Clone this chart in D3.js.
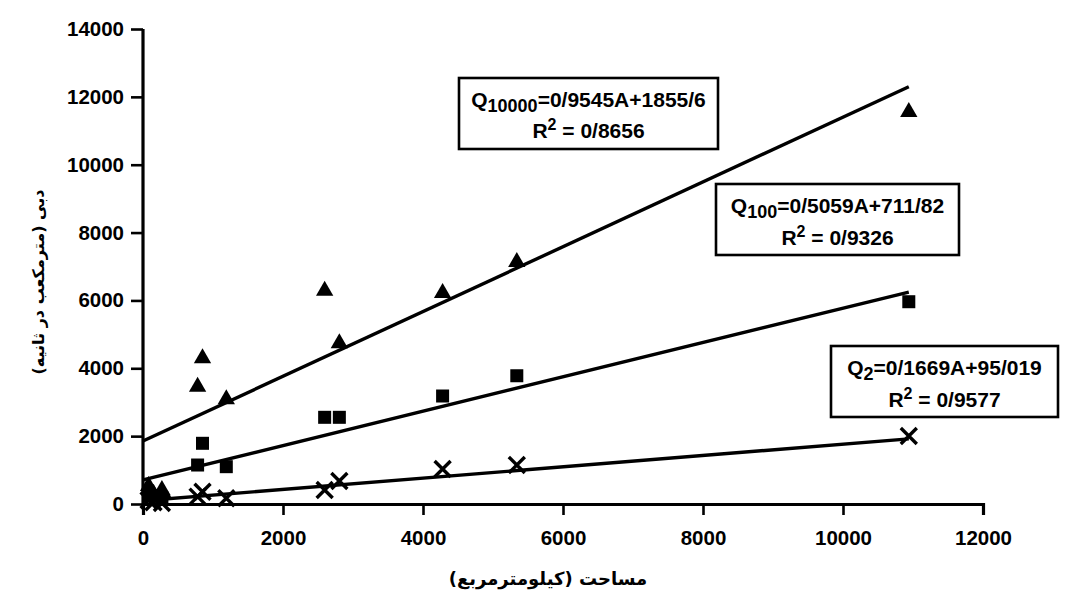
<!DOCTYPE html>
<html>
<head>
<meta charset="utf-8">
<script src="https://cdn.jsdelivr.net/npm/d3@7"></script>
<style>
  html, body { margin: 0; padding: 0; background: #ffffff; }
  svg { display: block; }
</style>
</head>
<body>
<svg id="chart" width="1079" height="606"></svg>
<script>
// ---- data ----
const area   = [80, 150, 270, 780, 850, 1190, 2595, 2805, 4280, 5340, 10940];
const q10000 = [530, 300, 413, 3457, 4294, 3086, 6287, 4736, 6219, 7132, 11553];
const q100   = [300, 250, 180, 1149, 1789, 1100, 2555, 2555, 3183, 3780, 5962];
const q2     = [110, 50, 30, 216, 363, 168, 413, 678, 1031, 1149, 2004];

const xTicks = [0, 2000, 4000, 6000, 8000, 10000, 12000];
const yTicks = [0, 2000, 4000, 6000, 8000, 10000, 12000, 14000];

// regression equations: [slope, intercept]
const fit10000 = [0.9545, 1855.6];
const fit100   = [0.5059, 711.82];
const fit2     = [0.1669, 95.019];

const label10000 = ["10000", "=0/9545A+1855/6", "0/8656"];
const label100   = ["100", "=0/5059A+711/82", "0/9326"];
const label2     = ["2", "=0/1669A+95/019", "0/9577"];

const xTitle = "مساحت (کیلومترمربع)";
const yTitle = "دبی (مترمکعب در ثانیه)";

// ---- drawing ----
const svg = d3.select("#chart");
const x = d3.scaleLinear().domain([0, 12000]).range([143, 983]);
const y = d3.scaleLinear().domain([0, 14000]).range([504, 29]);

const tickFont = "'Liberation Sans', Arial, sans-serif";

// x axis
const gx = svg.append("g").attr("transform", `translate(0,${y(0)})`)
  .call(d3.axisBottom(x).tickValues(xTicks).tickFormat(d3.format("d")).tickSizeOuter(0).tickSize(11).tickPadding(15));
// y axis
const gy = svg.append("g").attr("transform", `translate(${x(0)},0)`)
  .call(d3.axisLeft(y).tickValues(yTicks).tickFormat(d3.format("d")).tickSizeOuter(0).tickSize(12).tickPadding(7));

[gx, gy].forEach(g => {
  g.select(".domain").attr("stroke", "#000").attr("stroke-width", 3.2);
  g.selectAll(".tick line").attr("stroke", "#000").attr("stroke-width", 2.6);
  g.selectAll(".tick text").attr("fill", "#000")
    .style("font-family", tickFont).style("font-weight", "bold").style("font-size", "20.5px");
});
gy.select(".domain").attr("d", `M0,${y(14000)}V${y(0) + 3}`);

// axis titles
svg.append("text")
  .attr("x", 548).attr("y", 585)
  .attr("text-anchor", "middle")
  .style("font-family", "'DejaVu Sans', sans-serif")
  .style("font-size", "18px").style("font-weight", "bold")
  .attr("direction", "rtl")
  .text(xTitle);

svg.append("text")
  .attr("transform", `translate(44,282) rotate(-90)`)
  .attr("text-anchor", "middle")
  .style("font-family", "'DejaVu Sans', sans-serif")
  .style("font-size", "16px").style("font-weight", "bold")
  .attr("direction", "rtl")
  .text(yTitle);

// trend lines
const maxA = d3.max(area);
const line = d3.line().x(d => x(d[0])).y(d => y(d[1]));
[fit10000, fit100, fit2].forEach(f => {
  const pts = [0, maxA].map(a => [a, f[0] * a + f[1]]);
  svg.append("path").attr("d", line(pts))
    .attr("fill", "none").attr("stroke", "#000").attr("stroke-width", 3.4);
});

// markers
const tri = d3.symbol().type(d3.symbolTriangle).size(130);
svg.append("g").selectAll("path").data(area.map((a, i) => [a, q10000[i]]))
  .join("path")
  .attr("d", tri)
  .attr("transform", d => `translate(${x(d[0])},${y(d[1])})`)
  .attr("fill", "#000");

svg.append("g").selectAll("rect").data(area.map((a, i) => [a, q100[i]]))
  .join("rect")
  .attr("x", d => x(d[0]) - 6.5).attr("y", d => y(d[1]) - 6.5)
  .attr("width", 13).attr("height", 13)
  .attr("fill", "#000");

svg.append("g").selectAll("path").data(area.map((a, i) => [a, q2[i]]))
  .join("path")
  .attr("d", "M-8,-8L8,8M-8,8L8,-8")
  .attr("transform", d => `translate(${x(d[0])},${y(d[1])})`)
  .attr("stroke", "#000").attr("stroke-width", 3.4).attr("fill", "none");

// annotation boxes
function box(x0, y0, x1, y1, lab, base1, base2) {
  const g = svg.append("g");
  g.append("rect").attr("x", x0).attr("y", y0).attr("width", x1 - x0).attr("height", y1 - y0)
    .attr("fill", "#fff").attr("stroke", "#000").attr("stroke-width", 2.6);
  const cx = (x0 + x1) / 2;
  const t1 = g.append("text").attr("x", cx).attr("y", base1).attr("text-anchor", "middle")
    .style("font-family", tickFont).style("font-weight", "bold").style("font-size", "21px");
  t1.append("tspan").text("Q");
  t1.append("tspan").attr("dy", 5).style("font-size", "18px").text(lab[0]);
  t1.append("tspan").attr("dy", -5).text(lab[1]);
  const t2 = g.append("text").attr("x", cx).attr("y", base2).attr("text-anchor", "middle")
    .style("font-family", tickFont).style("font-weight", "bold").style("font-size", "21px");
  t2.append("tspan").text("R");
  t2.append("tspan").attr("dy", -8).style("font-size", "16px").text("2");
  t2.append("tspan").attr("dy", 8).text(" = " + lab[2]);
}
box(459, 78, 718, 149, label10000, 107, 138);
box(716, 184, 959, 255, label100, 213, 245);
box(831, 346, 1058, 417, label2, 375, 407);
</script>
</body>
</html>
